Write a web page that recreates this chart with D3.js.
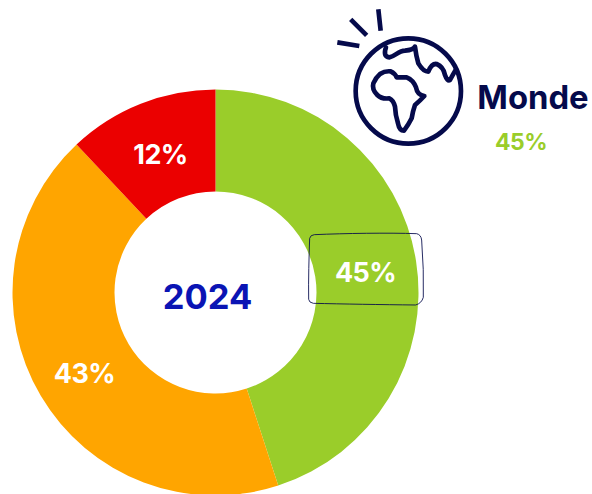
<!DOCTYPE html>
<html><head><meta charset="utf-8">
<script src="https://cdn.jsdelivr.net/npm/d3@7"></script>
<style>html,body{margin:0;padding:0;background:#fff}svg{display:block}text{font-family:Inter,sans-serif;font-weight:700}</style>
</head><body><svg id="c" width="592" height="494"></svg>
<script>
const year = "2024";
const categories = ["Vert", "Orange", "Rouge"];
const values = [45, 43, 12];
const colors = ["#9ACD2A", "#FFA500", "#EB0000"];
const region = "Monde";
const regionValue = 45;
const svg = d3.select("#c");
const cx = 215.5, cy = 292.5, R = 203, r = 101;
const color = d3.scaleOrdinal(categories, colors);
const pie = d3.pie().sort(null).value(d => d.v);
const arc = d3.arc().innerRadius(r).outerRadius(R);
const data = pie(categories.map((c, i) => ({c, v: values[i]})));
const g = svg.append("g").attr("transform", `translate(${cx},${cy})`);
g.selectAll("path").data(data).join("path").attr("d", arc).attr("fill", d => color(d.data.c));
const labelPos = [[150,-20],[-131,81],[-55,-138]];
g.selectAll("text.v").data(data).join("text").attr("class","v")
  .attr("x",(d,i)=>labelPos[i][0]).attr("y",(d,i)=>labelPos[i][1]).attr("text-anchor","middle")
  .attr("dy","0.35em").attr("fill","#fff").attr("font-size",27).attr("letter-spacing",-0.6).text(d=>d.data.v+"%");
g.append("text").attr("x",-8).attr("y",4).attr("text-anchor","middle").attr("dy","0.35em")
  .attr("fill","#0A14B4").attr("font-size",34.5).text(year);
// hand-drawn box
svg.append("path").attr("transform","translate(295,220) scale(0.3333)")
  .attr("d","M58,44 C150,40 280,38 365,41 Q378,44 380,60 Q387,150 385,232 Q380,250 362,255 C260,254 140,252 55,250 Q42,248 41,238 C40,180 42,110 44,55 Q46,45 58,44 Z")
  .attr("fill","none").attr("stroke","#050A4B").attr("stroke-width",2.6);
// globe icon
const ic = svg.append("g").attr("transform","translate(330,0) scale(0.3333)")
  .attr("fill","none").attr("stroke","#050A4B").attr("stroke-width",14).attr("stroke-linecap","round").attr("stroke-linejoin","round");
ic.append("circle").attr("cx",235).attr("cy",273).attr("r",158);
ic.append("path").attr("stroke-linecap","butt").attr("d","M22,127 L88,138 M62,58 L110,106 M145,28 L152,92");
ic.append("path").attr("d","M168,142 Q158,170 178,172 C195,170 205,152 225,152 Q250,150 255,140 Q258,165 265,190 Q280,215 295,215 Q305,190 320,192 Q340,200 345,225 Q352,245 360,240 Q368,225 378,208");
ic.append("path").attr("d","M150,222 Q165,212 182,214 Q195,220 200,232 L230,232 Q250,240 258,262 Q262,285 283,288 Q270,302 255,315 Q248,335 245,355 Q235,375 222,392 Q208,392 204,370 Q196,345 195,320 Q190,300 178,295 Q155,298 142,285 Q125,268 130,250 Q138,232 150,222 Z");
svg.append("text").attr("x",533).attr("y",109).attr("text-anchor","middle").attr("fill","#050A4B").attr("font-size",32.8).text(region);
svg.append("text").attr("x",521).attr("y",150).attr("text-anchor","middle").attr("fill","#9ACD2A").attr("font-size",23).attr("letter-spacing",-0.5).text(regionValue+"%");
</script></body></html>
